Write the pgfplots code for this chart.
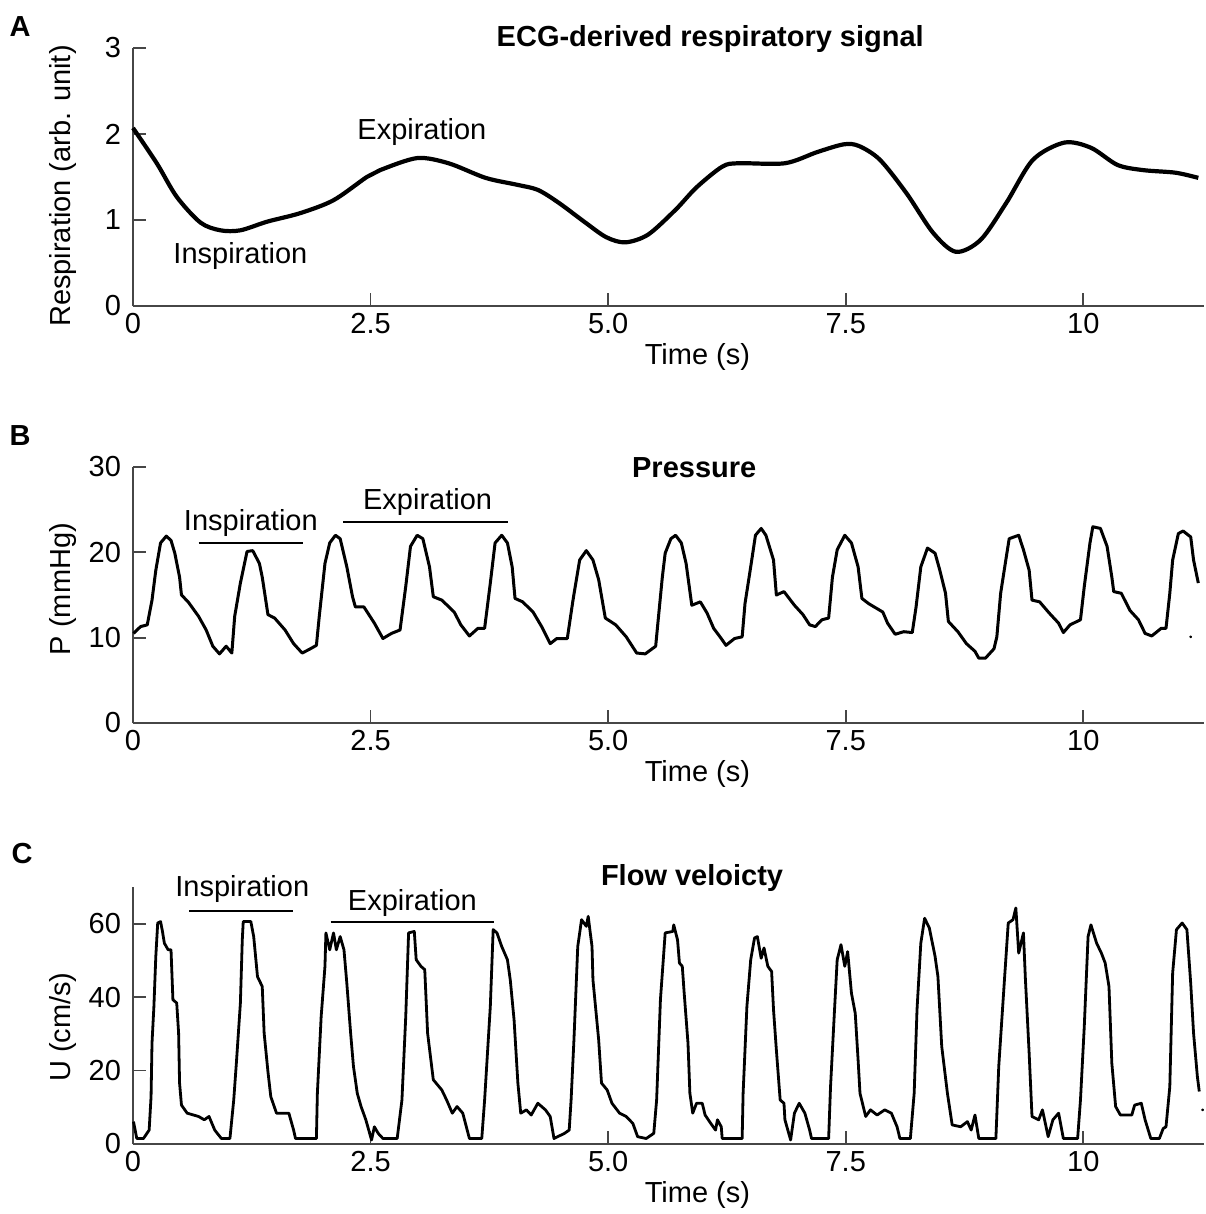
\documentclass[border=0pt]{standalone}
\usepackage{fontspec}
\setmainfont{Liberation Sans}
\usepackage{pgfplots}
\pgfplotsset{compat=1.18}
\definecolor{axgray}{RGB}{70,70,70}
\newcommand{\fs}{\fontsize{14.5}{17}\selectfont}
\pgfplotsset{
  panel/.style={
    scale only axis, width=535.5pt,
    xmin=0, xmax=11.27, ymin=0,
    axis x line*=bottom, axis y line*=left,
    axis line style={axgray, line width=0.9pt, -},
    tick style={axgray, line width=0.9pt},
    major tick length=6.5pt, tick align=inside,
    xtick={0,2.5,5,7.5,10}, xticklabels={0,2.5,5.0,7.5,10},
    /pgf/number format/assume math mode=true,
    tick label style={font=\fs, black},
    yticklabel style={xshift=-2.5pt},
    label style={font=\fs},
    xlabel={Time (s)},
    xlabel style={at={(axis description cs:0.527,0)}, anchor=center, yshift=-25.5pt},
    title style={font=\fs\bfseries, anchor=center, yshift=-7pt},
    clip=false,
    every axis plot/.append style={black, line join=round},
  }
}
\begin{document}
\begin{tikzpicture}
\path[use as bounding box] (0,0) rectangle (602.5pt,-607pt);
\node[font=\fs\bfseries] at (10pt,-13.5pt) {A};
\node[font=\fs\bfseries] at (10pt,-218pt) {B};
\node[font=\fs\bfseries] at (11pt,-427pt) {C};

% A: ECG-derived respiration
\begin{axis}[panel, at={(66.5pt,-153pt)}, anchor=south west, height=129pt,
  ymax=3, ytick={0,1,2,3},
  ylabel={Respiration (arb. unit)},
  ylabel style={at={(axis description cs:-0.0654,0.465)}, anchor=center},
  title={ECG-derived respiratory signal},
  title style={at={(axis description cs:0.539,1.043)}}]
\addplot[line width=2.1pt, smooth, tension=0.5] coordinates {
(0,2.07)(0.25,1.66)(0.46,1.27)(0.71,0.97)(0.92,0.88)(1.13,0.88)(1.41,0.98)
(1.76,1.08)(2.11,1.23)(2.46,1.50)(2.60,1.58)(2.99,1.72)(3.32,1.66)(3.71,1.49)
(4.04,1.41)(4.26,1.35)(4.48,1.20)(4.76,0.97)(4.98,0.80)(5.18,0.74)(5.42,0.83)
(5.71,1.12)(5.93,1.38)(6.20,1.62)(6.37,1.66)(6.86,1.66)(7.20,1.79)(7.48,1.88)
(7.64,1.86)(7.86,1.70)(8.14,1.31)(8.42,0.85)(8.66,0.63)(8.92,0.77)(9.19,1.20)
(9.47,1.70)(9.80,1.90)(10.08,1.84)(10.36,1.64)(10.63,1.58)(10.97,1.55)(11.21,1.49)
};
\node[font=\fs] at (axis cs:3.04,2.02) {Expiration};
\node[font=\fs] at (axis cs:1.13,0.58) {Inspiration};
\end{axis}

% B: pressure
\begin{axis}[panel, at={(66.5pt,-361.5pt)}, anchor=south west, height=128pt,
  ymax=30, ytick={0,10,20,30},
  ylabel={P (mmHg)},
  ylabel style={at={(axis description cs:-0.0654,0.523)}, anchor=center},
  title={Pressure},
  title style={at={(axis description cs:0.524,1.004)}}]
\addplot[line width=1.5pt] coordinates {
(0.005,10.5)(0.08,11.3)(0.15,11.5)(0.20,14.4)(0.24,17.9)(0.29,21.1)(0.35,21.9)
(0.40,21.4)(0.44,19.9)(0.49,17.1)(0.51,15.0)(0.58,14.2)(0.69,12.5)(0.77,10.9)
(0.84,9.0)(0.91,8.1)(0.98,9.0)(1.04,8.2)(1.07,12.5)(1.13,16.4)(1.20,20.1)
(1.26,20.2)(1.33,18.7)(1.36,17.1)(1.42,12.7)(1.49,12.3)(1.60,10.9)(1.69,9.3)
(1.78,8.2)(1.85,8.6)(1.93,9.1)(1.96,12.5)(2.02,18.7)(2.07,21.1)(2.13,22.0)
(2.18,21.6)(2.25,18.3)(2.31,14.8)(2.34,13.6)(2.43,13.6)(2.54,11.7)(2.63,9.9)
(2.72,10.5)(2.81,10.9)(2.87,16.0)(2.92,20.7)(2.99,22.0)(3.05,21.6)(3.12,18.3)
(3.16,14.8)(3.25,14.4)(3.38,13.0)(3.45,11.5)(3.54,10.2)(3.63,11.1)(3.70,11.1)
(3.76,16.4)(3.81,21.1)(3.88,22.0)(3.94,21.1)(3.99,18.3)(4.02,14.6)(4.10,14.2)
(4.21,13.0)(4.30,11.3)(4.39,9.3)(4.46,9.9)(4.57,9.9)(4.63,14.4)(4.70,19.1)
(4.77,20.2)(4.84,19.1)(4.90,16.8)(4.97,12.3)(5.08,11.5)(5.19,10.1)(5.30,8.2)
(5.39,8.1)(5.50,9.0)(5.53,12.5)(5.57,17.1)(5.60,19.9)(5.66,21.6)(5.71,22.0)
(5.77,21.1)(5.82,18.7)(5.88,13.8)(5.97,14.2)(6.04,12.9)(6.11,11.1)(6.19,9.9)
(6.24,9.1)(6.33,9.9)(6.41,10.1)(6.44,14.0)(6.50,18.3)(6.55,22.0)(6.61,22.8)
(6.66,22.0)(6.74,19.1)(6.77,15.0)(6.85,15.4)(6.96,13.8)(7.05,12.7)(7.12,11.5)
(7.18,11.3)(7.25,12.1)(7.32,12.3)(7.36,17.1)(7.41,20.3)(7.49,22.0)(7.56,21.1)
(7.63,18.3)(7.67,14.6)(7.74,14.0)(7.89,13.0)(7.94,11.7)(8.02,10.4)(8.11,10.7)
(8.20,10.6)(8.24,13.6)(8.29,18.3)(8.36,20.5)(8.44,19.9)(8.49,17.9)(8.55,15.2)
(8.58,11.9)(8.68,10.7)(8.77,9.3)(8.86,8.4)(8.90,7.6)(8.97,7.6)(9.06,8.7)
(9.09,10.1)(9.13,15.2)(9.19,19.5)(9.22,21.6)(9.32,22.0)(9.37,20.3)(9.43,17.9)
(9.46,14.4)(9.54,14.2)(9.64,12.9)(9.74,11.7)(9.79,10.6)(9.86,11.5)(9.97,12.1)
(10.01,16.0)(10.07,21.1)(10.10,23.0)(10.18,22.8)(10.25,20.7)(10.30,17.1)
(10.32,15.4)(10.40,15.2)(10.49,13.2)(10.58,12.1)(10.65,10.5)(10.72,10.2)
(10.82,11.1)(10.87,11.1)(10.91,15.2)(10.94,19.1)(11.00,22.2)(11.05,22.5)
(11.13,21.8)(11.16,19.1)(11.21,16.4)
};
\addplot[only marks, mark=*, mark size=0.5pt] coordinates {(11.13,10.1)};
\node[font=\fs] at (axis cs:1.24,23.4) {Inspiration};
\draw[line width=1pt] (axis cs:0.69,21.1) -- (axis cs:1.79,21.1);
\node[font=\fs] at (axis cs:3.10,25.9) {Expiration};
\draw[line width=1pt] (axis cs:2.21,23.55) -- (axis cs:3.95,23.55);
\end{axis}

% C: flow velocity
\begin{axis}[panel, at={(66.5pt,-572pt)}, anchor=south west, height=128.5pt,
  ymax=70, ytick={0,20,40,60},
  ylabel={U (cm/s)},
  ylabel style={at={(axis description cs:-0.0654,0.455)}, anchor=center},
  title={Flow veloicty},
  title style={at={(axis description cs:0.522,1.043)}}]
\addplot[line width=1.4pt] coordinates {
(0.005,6.1)(0.04,1.5)(0.11,1.5)(0.17,3.8)(0.19,12.9)(0.20,27.5)(0.22,37.5)
(0.24,51.1)(0.26,60.2)(0.29,60.6)(0.31,57.9)(0.33,54.7)(0.37,52.9)(0.40,52.9)
(0.42,39.3)(0.46,38.4)(0.48,30.2)(0.49,16.6)(0.51,10.6)(0.57,8.4)(0.69,7.5)
(0.75,6.6)(0.80,7.5)(0.86,3.8)(0.93,1.5)(1.02,1.5)(1.06,12.0)(1.09,22.9)
(1.13,38.4)(1.15,55.6)(1.16,60.6)(1.24,60.6)(1.27,56.5)(1.31,45.6)(1.36,42.9)
(1.38,30.2)(1.42,19.7)(1.45,12.9)(1.51,8.4)(1.64,8.4)(1.69,3.8)(1.71,1.5)
(1.93,1.5)(1.94,13.8)(1.98,34.7)(2.02,48.4)(2.03,57.5)(2.07,52.9)(2.11,57.5)
(2.14,52.9)(2.18,56.5)(2.22,52.9)(2.25,43.8)(2.29,30.2)(2.32,21.1)(2.36,13.8)
(2.40,10.2)(2.45,6.6)(2.51,1.1)(2.54,4.7)(2.58,2.9)(2.63,1.5)(2.78,1.5)
(2.83,12.0)(2.87,34.7)(2.90,57.5)(2.96,57.9)(2.98,50.2)(3.03,48.4)(3.07,47.5)
(3.10,30.2)(3.16,17.5)(3.25,14.7)(3.30,12.0)(3.36,8.4)(3.41,10.2)(3.47,8.4)
(3.54,1.5)(3.67,1.5)(3.70,12.0)(3.76,37.5)(3.79,58.4)(3.83,57.5)(3.88,53.8)
(3.94,50.2)(3.97,44.7)(4.01,33.8)(4.05,16.6)(4.08,8.4)(4.14,9.3)(4.19,7.9)
(4.26,11.1)(4.34,9.3)(4.39,7.5)(4.43,1.5)(4.54,2.9)(4.59,3.8)(4.61,12.0)
(4.64,28.4)(4.68,53.8)(4.72,61.1)(4.77,59.3)(4.79,62.0)(4.83,53.8)(4.84,44.7)
(4.90,28.4)(4.93,16.6)(4.99,14.7)(5.04,11.1)(5.12,8.4)(5.19,7.5)(5.26,5.6)
(5.31,2.0)(5.40,1.5)(5.48,2.9)(5.51,12.0)(5.55,39.3)(5.58,50.2)(5.60,57.5)
(5.68,57.9)(5.69,59.7)(5.73,55.6)(5.75,49.3)(5.78,48.4)(5.80,41.1)(5.84,27.5)
(5.86,13.8)(5.89,8.4)(5.93,11.1)(5.99,11.1)(6.02,7.9)(6.08,5.6)(6.13,3.8)
(6.15,6.6)(6.19,4.7)(6.20,1.5)(6.41,1.5)(6.42,13.8)(6.46,37.5)(6.50,50.2)
(6.54,56.1)(6.57,56.5)(6.61,50.6)(6.64,53.4)(6.68,48.4)(6.72,47.0)(6.74,36.6)
(6.77,25.6)(6.81,12.0)(6.85,11.1)(6.86,6.6)(6.92,1.1)(6.96,8.4)(7.01,11.1)
(7.07,8.4)(7.12,3.8)(7.14,1.5)(7.32,1.5)(7.34,15.6)(7.38,35.6)(7.41,50.2)
(7.45,54.3)(7.49,48.4)(7.52,52.4)(7.56,41.1)(7.60,35.6)(7.63,22.9)(7.65,13.8)
(7.71,7.5)(7.76,9.3)(7.83,7.9)(7.91,9.3)(7.98,8.4)(8.04,4.7)(8.07,1.5)
(8.18,1.5)(8.22,13.8)(8.25,36.6)(8.29,54.7)(8.33,61.5)(8.38,58.8)(8.44,51.1)
(8.47,45.6)(8.51,26.6)(8.57,13.8)(8.62,5.2)(8.71,4.7)(8.78,6.1)(8.82,3.8)
(8.86,7.9)(8.90,1.5)(9.08,1.5)(9.11,21.1)(9.17,44.7)(9.21,60.2)(9.26,61.1)
(9.29,64.3)(9.32,52.0)(9.37,57.5)(9.39,45.2)(9.43,24.7)(9.46,7.5)(9.53,6.6)
(9.57,9.3)(9.63,2.0)(9.68,6.6)(9.74,8.4)(9.79,1.5)(9.94,1.5)(9.97,12.0)
(10.01,32.0)(10.05,56.5)(10.08,59.7)(10.14,54.7)(10.19,52.0)(10.23,49.3)
(10.27,42.9)(10.30,22.0)(10.34,10.2)(10.39,7.9)(10.51,7.9)(10.54,10.6)
(10.61,11.1)(10.65,6.6)(10.71,1.5)(10.80,1.5)(10.84,4.2)(10.87,4.7)(10.91,15.6)
(10.94,46.6)(10.98,58.4)(11.04,60.2)(11.09,58.4)(11.13,43.8)(11.16,30.2)
(11.20,18.4)(11.22,14.3)
};
\addplot[only marks, mark=*, mark size=0.5pt] coordinates {(11.255,9.3)};
\node[font=\fs] at (axis cs:1.15,69.5) {Inspiration};
\draw[line width=1pt] (axis cs:0.59,63.4) -- (axis cs:1.68,63.4);
\node[font=\fs] at (axis cs:2.94,65.7) {Expiration};
\draw[line width=1pt] (axis cs:2.08,60.4) -- (axis cs:3.80,60.4);
\end{axis}
\end{tikzpicture}
\end{document}
